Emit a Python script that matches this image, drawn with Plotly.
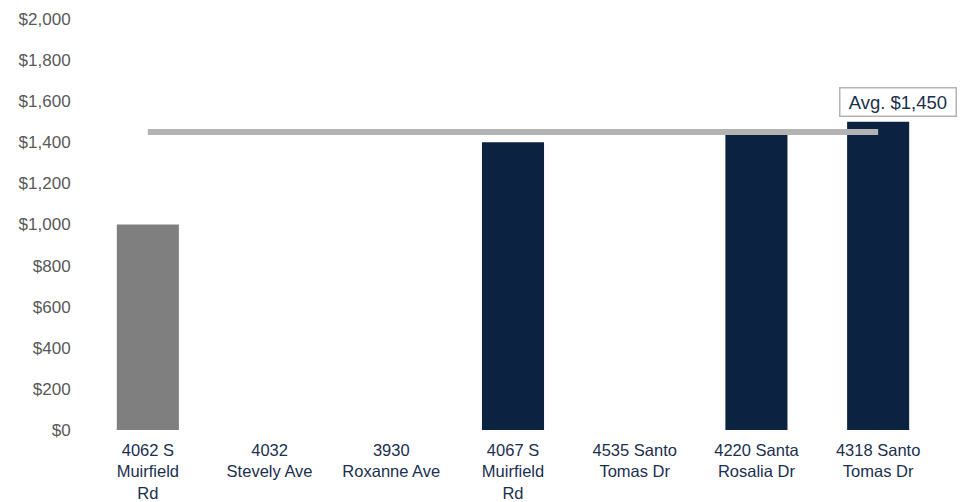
import plotly.graph_objects as go

categories = ["4062 S<br>Muirfield<br>Rd", "4032<br>Stevely Ave", "3930<br>Roxanne Ave",
              "4067 S<br>Muirfield<br>Rd", "4535 Santo<br>Tomas Dr", "4220 Santa<br>Rosalia Dr",
              "4318 Santo<br>Tomas Dr"]
rents = [1000, 0, 0, 1400, 0, 1450, 1500]
bar_colors = ["#7f7f7f", "#0b2240", "#0b2240", "#0b2240", "#0b2240", "#0b2240", "#0b2240"]
avg_value = 1450
avg_label = "\u00a0Avg. $1,450\u00a0"
y_ticks = [0, 200, 400, 600, 800, 1000, 1200, 1400, 1600, 1800, 2000]
y_ticktext = ["$0", "$200", "$400", "$600", "$800", "$1,000", "$1,200", "$1,400",
              "$1,600", "$1,800", "$2,000"]

fig = go.Figure()
fig.add_trace(go.Bar(x=categories, y=rents, marker=dict(color=bar_colors, line=dict(width=0)),
                     width=0.51, hoverinfo="skip"))
fig.add_trace(go.Scatter(x=[categories[0], categories[-1]], y=[avg_value, avg_value],
                         mode="lines", line=dict(color="#b3b3b3", width=6), hoverinfo="skip"))

fig.add_annotation(x=categories[-1], y=1595, xref="x", yref="y", text=avg_label,
                   showarrow=False, xshift=20,
                   font=dict(family="Liberation Sans, Arial", size=18.5, color="#1b2f4f"),
                   bordercolor="#b3b3b3", borderwidth=1.5, borderpad=3, bgcolor="white")

fig.update_layout(
    width=972, height=502, autosize=False,
    margin=dict(l=87, r=33, t=19, b=72, autoexpand=False),
    plot_bgcolor="white", paper_bgcolor="white",
    showlegend=False,
    font=dict(family="Liberation Sans, Arial", size=17),
    bargap=0.49,
)
fig.update_xaxes(range=[-0.5, len(categories) - 0.5],
                 showgrid=False, showline=False, zeroline=False, automargin=False,
                 tickfont=dict(size=16.5, color="#1b2f4f"),
                 ticks="outside", ticklen=5, tickcolor="rgba(0,0,0,0)")
fig.update_yaxes(range=[0, 2000], tickvals=y_ticks, ticktext=y_ticktext,
                 showgrid=False, showline=False, zeroline=False, automargin=False,
                 tickfont=dict(size=17, color="#595959"),
                 ticks="outside", ticklen=12, tickcolor="rgba(0,0,0,0)")

fig.write_html("out.html", config={"responsive": False})
